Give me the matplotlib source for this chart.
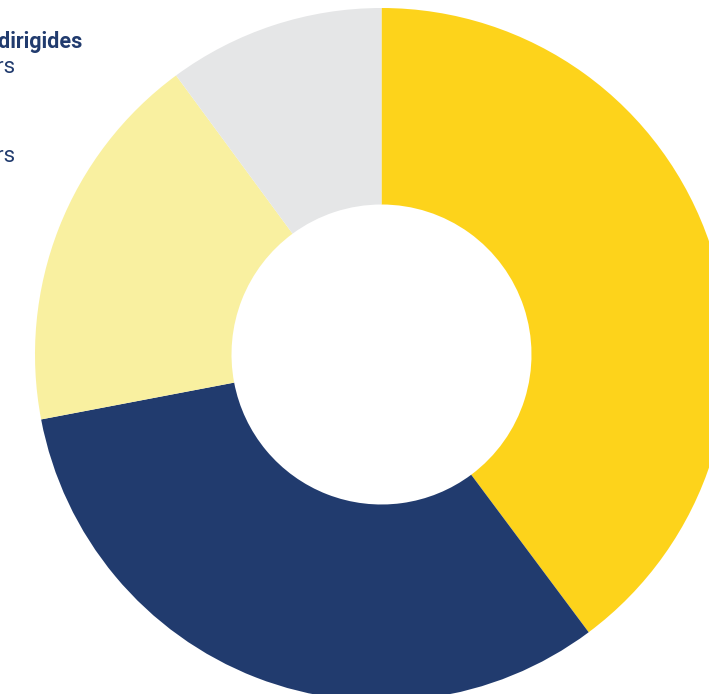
import matplotlib
matplotlib.use("Agg")
import matplotlib.pyplot as plt

categories = ["Groc", "Blau", "Groc clar", "Gris"]
values = [39.8, 32.2, 17.9, 10.1]
colors = ["#FDD31B", "#213B6E", "#F9F0A0", "#E5E6E7"]

title_label = "Empreses dirigides"
legend_labels = ["per dones emprenedors", "per homes emprenedors"]

W, H = 709, 694
fig = plt.figure(figsize=(W / 100, H / 100), dpi=100)
ax = fig.add_axes([0, 0, 1, 1])

cx, cy = 381.5, H - 354.5
R = 346.5
r_in = 150
ax.pie(values, colors=colors, startangle=90, counterclock=False,
       center=(cx, cy), radius=R,
       wedgeprops=dict(width=R - r_in, linewidth=0))
ax.set_xlim(0, W)
ax.set_ylim(0, H)
ax.set_aspect("equal")
ax.axis("off")

navy = "#213B6E"
ax.text(82, H - 47.5, title_label, ha="right", va="baseline", fontsize=15.5,
        fontweight="bold", color=navy, family="Roboto")
ax.text(15, H - 73, legend_labels[0], ha="right", va="baseline", fontsize=16,
        color=navy, family="Roboto")
ax.text(15, H - 162, legend_labels[1], ha="right", va="baseline", fontsize=16,
        color=navy, family="Roboto")

fig.savefig("out.png", dpi=100)
